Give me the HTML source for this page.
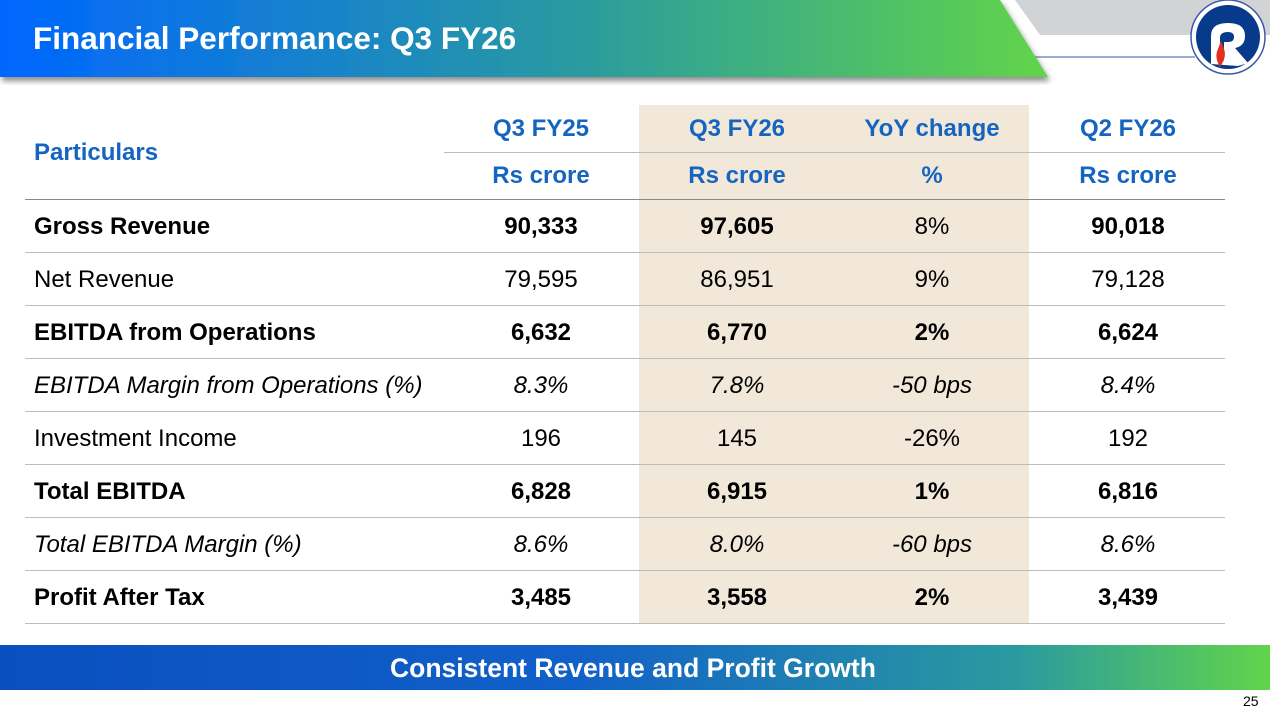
<!DOCTYPE html>
<html><head><meta charset="utf-8"><style>
body{margin:0;width:1270px;height:713px;position:relative;overflow:hidden;background:#fff;font-family:"Liberation Sans",Arial,sans-serif}
.abs{position:absolute}
.cell{position:absolute;height:53px;line-height:53px;font-size:24px;color:#000;white-space:nowrap}
.c{text-align:center;width:190px}
.h{color:#1565c0;font-weight:bold;font-size:24px}
.line{position:absolute;height:1px;background:#bdbdbd}
</style></head><body>
<svg class="abs" style="left:0;top:0" width="1270" height="100">
<defs><linearGradient id="g1" x1="0" x2="1"><stop offset="0" stop-color="#0066ff"/><stop offset="0.55" stop-color="#2a9aa0"/><stop offset="1" stop-color="#62d44a"/></linearGradient>
<filter id="sh"><feDropShadow dx="2" dy="4" stdDeviation="3" flood-color="#000" flood-opacity="0.45"/></filter></defs>
<polygon points="1015,0 1270,0 1270,35 1040,35" fill="#d2d3d5"/>
<line x1="1035" y1="57" x2="1195" y2="57" stroke="#3a5aa8" stroke-width="1"/>
<polygon points="0,0 1000,0 1048,77 0,77" fill="url(#g1)" filter="url(#sh)"/>
<text x="33" y="49" fill="#fff" font-size="31.5" font-weight="bold" font-family="Liberation Sans,sans-serif">Financial Performance: Q3 FY26</text>
<g>
<circle cx="1228" cy="37" r="37" fill="#fff" stroke="#3a5aa8" stroke-width="1.5"/>
<circle cx="1228" cy="37" r="32" fill="#073a8a"/>
<path d="M1211,64 L1211,36 Q1211,23 1228,23 Q1245,23 1245,36 Q1245,46 1235,48 L1248,63 L1238,66 Z" fill="#fff"/>
<path d="M1220,38 Q1220,32 1228,32 Q1234,32 1234,37 Q1234,42 1228,42 L1224,42 L1224,60 L1220,62 Z" fill="#073a8a"/>
<path d="M1220,67 Q1214,57 1218,49 L1221,41 L1224,49 Q1227,57 1220,67 Z" fill="#e0301e"/>
</g></svg>
<div class="abs" style="left:639px;top:105px;width:390px;height:518px;background:#f2e8da"></div>
<div class="line" style="left:444px;top:152px;width:781px"></div>
<div class="line" style="left:25px;top:199px;width:1200px;background:#888"></div>
<div class="line" style="left:25px;top:252px;width:1200px"></div>
<div class="line" style="left:25px;top:305px;width:1200px"></div>
<div class="line" style="left:25px;top:358px;width:1200px"></div>
<div class="line" style="left:25px;top:411px;width:1200px"></div>
<div class="line" style="left:25px;top:464px;width:1200px"></div>
<div class="line" style="left:25px;top:517px;width:1200px"></div>
<div class="line" style="left:25px;top:570px;width:1200px"></div>
<div class="line" style="left:25px;top:623px;width:1200px"></div>
<div>
<div class="cell h" style="left:34px;top:126px">Particulars</div>
<div class="cell h c" style="left:446px;top:102px">Q3 FY25</div>
<div class="cell h c" style="left:642px;top:102px">Q3 FY26</div>
<div class="cell h c" style="left:837px;top:102px">YoY change</div>
<div class="cell h c" style="left:1033px;top:102px">Q2 FY26</div>
<div class="cell h c" style="left:446px;top:149px">Rs crore</div>
<div class="cell h c" style="left:642px;top:149px">Rs crore</div>
<div class="cell h c" style="left:837px;top:149px">%</div>
<div class="cell h c" style="left:1033px;top:149px">Rs crore</div>
</div>
<div id="rows"></div>
<div class="abs" style="left:0;top:645px;width:1270px;height:45px;background:linear-gradient(90deg,#0a4fc0 0%,#1160c8 45%,#2a9aa0 80%,#62d44a 100%);color:#fff;font-weight:bold;font-size:26.5px;line-height:47px;text-align:center"><span style="position:relative;left:-2px">Consistent Revenue and Profit Growth</span></div>
<div class="abs" style="left:1243px;top:693px;font-size:14px;color:#000">25</div>
<script>
const labels=["Gross Revenue","Net Revenue","EBITDA from Operations","EBITDA Margin from Operations (%)","Investment Income","Total EBITDA","Total EBITDA Margin (%)","Profit After Tax"];
const q3fy25=["90,333","79,595","6,632","8.3%","196","6,828","8.6%","3,485"];
const q3fy26=["97,605","86,951","6,770","7.8%","145","6,915","8.0%","3,558"];
const yoy=["8%","9%","2%","-50 bps","-26%","1%","-60 bps","2%"];
const q2fy26=["90,018","79,128","6,624","8.4%","192","6,816","8.6%","3,439"];
const styles=["b","n","b","i","n","b","i","b"];
const numBold=["b","n","b","i","n","b","i","b"];
const yoyBold=["n","n","b","i","n","b","i","b"];
const root=document.getElementById('rows');
function mk(txt,left,top,cls,st){const d=document.createElement('div');d.className='cell'+(cls?' '+cls:'');d.style.left=left+'px';d.style.top=top+'px';d.textContent=txt;if(st==='b')d.style.fontWeight='bold';if(st==='i')d.style.fontStyle='italic';root.appendChild(d);return d;}
labels.forEach((l,i)=>{const top=199+i*53+1;
const a=mk(l,34,top,'',styles[i]);


const b=mk(q3fy25[i],446,top,'c',numBold[i]);


const c=mk(q3fy26[i],642,top,'c',numBold[i]);


const d=mk(yoy[i],837,top,'c',yoyBold[i]);


const e=mk(q2fy26[i],1033,top,'c',numBold[i]);


});
</script>
</body></html>
